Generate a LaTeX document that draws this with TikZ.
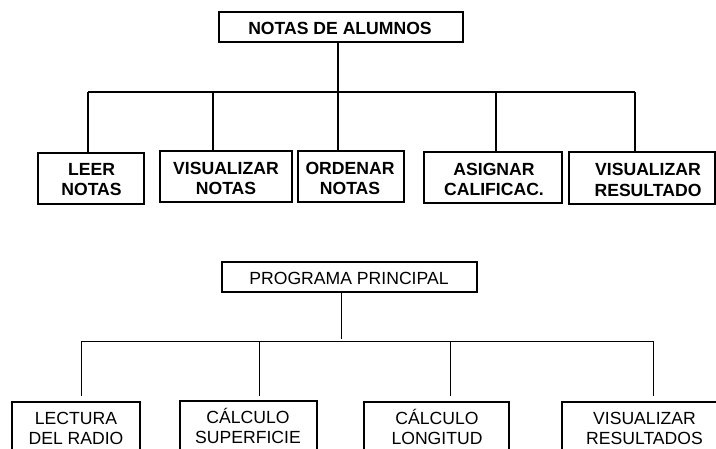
\documentclass[tikz,border=0pt]{standalone}
\usepackage{fontspec}
\setmainfont{Liberation Sans}
\begin{document}
\begin{tikzpicture}[x=1pt,y=-1pt,
  boxa/.style={draw=black, line width=1.6pt, rectangle, inner sep=0pt},
  boxt/.style={draw=black, line width=1.1pt, rectangle, inner sep=0pt},
  boxb/.style={draw=black, line width=1.2pt, rectangle, inner sep=0pt},
  conna/.style={draw=black, line width=1.3pt},
  connb/.style={draw=black, line width=1pt},
  txta/.style={inner sep=0pt, anchor=north, align=center, font=\fontsize{17.6}{20.5}\selectfont\bfseries},
  txtt/.style={inner sep=0pt, anchor=north, align=center, font=\fontsize{17.6}{20.5}\selectfont\bfseries},
  txtb/.style={inner sep=0pt, anchor=north, align=center, font=\fontsize{17.6}{20}\selectfont}]
\useasboundingbox (0,0) rectangle (716,448);
\fill[white] (0,0) rectangle (716,448);
\clip (0,0) rectangle (716,448);

% ---------- upper chart ----------
\node[boxt, minimum width=244pt, minimum height=30pt] (t1) at (341,27) {};
\node[txtt] (t1t) at (340,17) {\rule{0pt}{17pt}NOTAS DE ALUMNOS};

\node[boxa, minimum width=106pt, minimum height=51pt] (leer) at (91,178.5) {};
\node[boxa, minimum width=132pt, minimum height=51pt] (vis) at (226,176.5) {};
\node[boxa, minimum width=106pt, minimum height=51pt] (ord) at (351,176.5) {};
\node[boxa, minimum width=138pt, minimum height=51pt] (asig) at (493,177.5) {};
\node[boxa, minimum width=146pt, minimum height=52pt] (visr) at (642,178) {};

\node[txta] (leert) at (91.5,158) {\rule{0pt}{17pt}LEER\\NOTAS};
\node[txta] (vist) at (226,157) {\rule{0pt}{17pt}VISUALIZAR\\NOTAS};
\node[txta] (ordt) at (350,157) {\rule{0pt}{17pt}ORDENAR\\NOTAS};
\node[txta] (asigt) at (494,158) {\rule{0pt}{17pt}ASIGNAR\\CALIFICAC.};
\node[txta] (visrt) at (648,158.5) {\rule{0pt}{17pt}VISUALIZAR\\RESULTADO};

\coordinate (a0) at (338,92);
\coordinate (a1) at (88,92);
\coordinate (a2) at (213,92);
\coordinate (a4) at (496,92);
\coordinate (a5) at (635,92);

\draw[conna] (t1.south -| a0) -- (a0);
\draw[conna] (a1) -- (a5);
\draw[conna] (a1) -- (a1 |- leer.north);
\draw[conna] (a2) -- (a2 |- vis.north);
\draw[conna] (a0) -- (a0 |- ord.north);
\draw[conna] (a4) -- (a4 |- asig.north);
\draw[conna] (a5) -- (a5 |- visr.north);

% ---------- lower chart ----------
\node[boxb, minimum width=255pt, minimum height=30pt] (t2) at (349.5,277) {};
\node[txtb] (t2t) at (349,267) {\rule{0pt}{17pt}PROGRAMA PRINCIPAL};

\node[boxb, minimum width=128pt, minimum height=70pt] (lect) at (76,437) {};
\node[boxb, minimum width=137pt, minimum height=70pt] (sup) at (248.5,436) {};
\node[boxb, minimum width=145pt, minimum height=70pt] (lon) at (436.5,437) {};
\node[boxb, minimum width=165pt, minimum height=70pt] (visb) at (644.5,437) {};

\node[txtb] (lectt) at (76,407) {\rule{0pt}{17pt}LECTURA\\DEL RADIO};
\node[txtb] (supt) at (248,406.3) {\rule{0pt}{17pt}CÁLCULO\\SUPERFICIE};
\node[txtb] (lont) at (437,407) {\rule{0pt}{17pt}CÁLCULO\\LONGITUD};
\node[txtb] (visbt) at (644.5,407) {\rule{0pt}{17pt}VISUALIZAR\\RESULTADOS};

\coordinate (b0) at (341,341);
\coordinate (b1) at (81,341);
\coordinate (b2) at (259,341);
\coordinate (b3) at (450,341);
\coordinate (b4) at (653,341);

\draw[connb, shorten >=2.5pt] (t2.south -| b0) -- (b0);
\draw[connb] (b1) -- (b4);
\draw[connb, shorten >=5pt] (b1) -- (b1 |- lect.north);
\draw[connb, shorten >=4pt] (b2) -- (b2 |- sup.north);
\draw[connb, shorten >=5pt] (b3) -- (b3 |- lon.north);
\draw[connb, shorten >=5pt] (b4) -- (b4 |- visb.north);
\end{tikzpicture}
\end{document}
